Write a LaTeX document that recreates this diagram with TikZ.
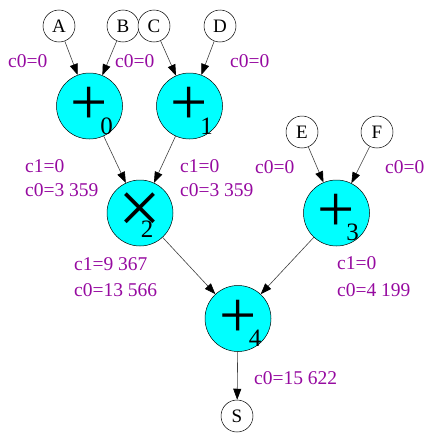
\documentclass[tikz,border=0pt]{standalone}
\usepackage{fontspec}
\setmainfont{Liberation Serif}
\usetikzlibrary{arrows.meta}
\definecolor{labcol}{RGB}{150,10,160}
\definecolor{opfill}{RGB}{0,255,255}
\tikzset{
  leaf/.style={circle, draw=black, line width=0.5pt, fill=white, minimum size=32pt, inner sep=0pt, font=\fontsize{19}{19}\selectfont},
  opnode/.style={circle, draw=black, line width=0.5pt, fill=opfill, minimum size=66pt, inner sep=0pt, font=\fontsize{66}{66}\selectfont},
  timesnode/.style={circle, draw=black, line width=0.5pt, fill=opfill, minimum size=66pt, inner sep=0pt, font=\fontsize{76}{76}\selectfont},
  subnum/.style={inner sep=0pt, font=\fontsize{25}{25}\selectfont},
  lbl/.style={text=labcol, anchor=west, inner sep=0pt, font=\fontsize{19.5}{19.5}\selectfont},
  edge/.style={draw=black!75, line width=0.6pt, -{Triangle[length=11pt,width=8pt,color=black]}}
}
\begin{document}
\begin{tikzpicture}[x=1pt,y=-1pt]
\useasboundingbox (0,0) rectangle (426,434);
% leaves
\node[leaf] (A) at (59,26) {A};
\node[leaf] (B) at (123,26) {B};
\node[leaf] (C) at (154,26) {C};
\node[leaf] (D) at (220,26) {D};
\node[leaf] (E) at (302,132) {E};
\node[leaf] (F) at (377,132) {F};
\node[leaf] (S) at (237,416) {S};
% operators
\node[opnode] (p0) at (89.5,106) {+};
\node[opnode] (p1) at (189.5,106) {+};
\node[timesnode] (m2) at (140,213) {×};
\node[opnode] (p3) at (336.5,213) {+};
\node[opnode] (p4) at (238,318.5) {+};
\node[subnum] (p0s) at ([shift={(17,20)}]p0.center) {0};
\node[subnum] (p1s) at ([shift={(17,20)}]p1.center) {1};
\node[subnum] (m2s) at ([shift={(7,16)}]m2.center) {2};
\node[subnum] (p3s) at ([shift={(16,19)}]p3.center) {3};
\node[subnum] (p4s) at ([shift={(17,20)}]p4.center) {4};
% edges
\draw[edge] (A) -- (p0);
\draw[edge] (B) -- (p0);
\draw[edge] (C) -- (p1);
\draw[edge] (D) -- (p1);
\draw[edge] (p0) -- (m2);
\draw[edge] (p1) -- (m2);
\draw[edge] (E) -- (p3);
\draw[edge] (F) -- (p3);
\draw[edge] (m2) -- (p4);
\draw[edge] (p3) -- (p4);
\draw[edge] (p4) -- (S);
% labels
\node[lbl] (l1) at (8,61) {c0=0};
\node[lbl] (l2) at (115,61) {c0=0};
\node[lbl] (l3) at (230,61) {c0=0};
\node[lbl] (l4) at (25,166) {c1=0};
\node[lbl] (l5) at (25,190) {c0=3 359};
\node[lbl] (l6) at (180,166) {c1=0};
\node[lbl] (l7) at (180,190) {c0=3 359};
\node[lbl] (l8) at (255,167) {c0=0};
\node[lbl] (l9) at (385,167) {c0=0};
\node[lbl] (l10) at (74,264) {c1=9 367};
\node[lbl] (l11) at (74,290) {c0=13 566};
\node[lbl] (l12) at (337,263) {c1=0};
\node[lbl] (l13) at (337,290) {c0=4 199};
\node[lbl] (l14) at (254,378) {c0=15 622};
\end{tikzpicture}
\end{document}
